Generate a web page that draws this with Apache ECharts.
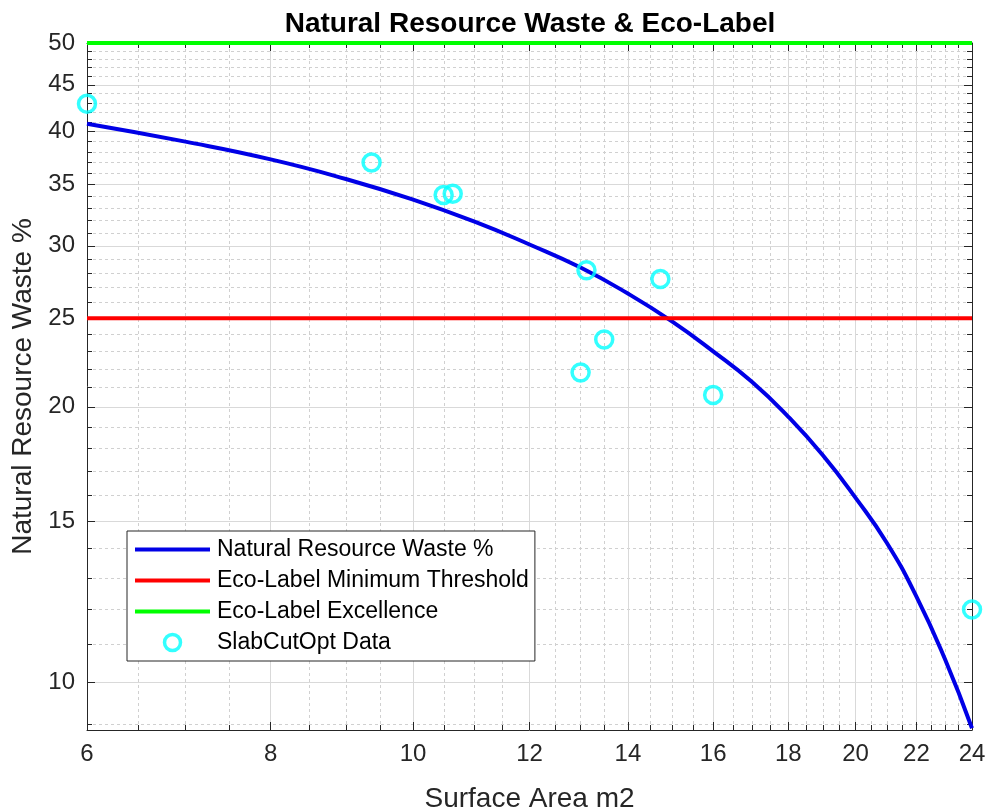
<!DOCTYPE html>
<html>
<head>
<meta charset="utf-8">
<title>Natural Resource Waste &amp; Eco-Label</title>
<script src="https://cdn.jsdelivr.net/npm/echarts@6/dist/echarts.min.js"></script>
<style>
  html, body { margin: 0; padding: 0; background: #fff; }
  #chart { width: 988px; height: 807px; }
</style>
</head>
<body>
<div id="chart"></div>
<script>
// axis ranges (log-log)
const X_MIN = 6;
const X_MAX = 24;
const Y_MIN = 8.86;
const Y_MAX = 50;

// tick values
const xMajorTicks = [6, 8, 10, 12, 14, 16, 18, 20, 22, 24];
const xMinorTicks = [6.5, 7, 7.5, 8.5, 9, 9.5, 10.5, 11, 11.5, 12.5, 13, 13.5, 14.5, 15, 15.5,
  16.5, 17, 17.5, 18.5, 19, 19.5, 20.5, 21, 21.5, 22.5, 23, 23.5];
const yMajorTicks = [10, 15, 20, 25, 30, 35, 40, 45, 50];
const yMinorTicks = [9, 11, 12, 13, 14, 16, 17, 18, 19, 21, 22, 23, 24, 26, 27, 28, 29,
  31, 32, 33, 34, 36, 37, 38, 39, 41, 42, 43, 44, 46, 47, 48, 49];

// fitted waste curve
const wasteArea = [6, 7, 8, 9, 10, 11, 12, 13, 14, 15, 16, 17, 18, 19, 20, 21, 22, 23, 24];
const wastePct = [40.8, 39.0, 37.3, 35.5, 33.7, 31.9, 30.1, 28.4, 26.6, 24.8, 23.0, 21.3,
  19.5, 17.7, 15.9, 14.2, 12.4, 10.6, 8.9];

// eco-label thresholds
const minThreshold = 25;
const excellence = 50;

// SlabCutOpt measurements
const slabArea = [6, 9.37, 10.49, 10.64, 13.12, 14.73, 13.49, 13.0, 16.0, 24];
const slabWaste = [42.9, 37.0, 34.1, 34.2, 28.2, 27.6, 23.7, 21.8, 20.6, 12.0];

const FONT = "Liberation Sans";
const AXIS_COLOR = "#262626";
const MAJOR_GRID = "#d9d9d9";
const MINOR_GRID = "#d0d0d0";
const LINE_ICON = "path://M0,0H75V4H0Z";

const pairs = (xs, ys) => xs.map((x, i) => [x, ys[i]]);

// one axis per tick family; the first carries labels and name
const xAxisFor = (position, ticks, len, opts) => Object.assign({
  type: "log",
  logBase: 10,
  min: X_MIN,
  max: X_MAX,
  position: position,
  axisLine: { show: false, onZero: false },
  axisTick: { show: true, inside: true, length: len, customValues: ticks, lineStyle: { color: AXIS_COLOR, width: 1 } },
  axisLabel: { show: false },
  splitLine: { show: false },
  minorTick: { show: false },
  minorSplitLine: { show: false },
}, opts);

const yAxisFor = (position, ticks, len, opts) => Object.assign({
  type: "log",
  logBase: 10,
  min: Y_MIN,
  max: Y_MAX,
  position: position,
  axisLine: { show: false, onZero: false },
  axisTick: { show: true, inside: true, length: len, customValues: ticks, lineStyle: { color: AXIS_COLOR, width: 1 } },
  axisLabel: { show: false },
  splitLine: { show: false },
  minorTick: { show: false },
  minorSplitLine: { show: false },
}, opts);

const chart = echarts.init(document.getElementById("chart"));

chart.setOption({
  animation: false,
  backgroundColor: "#fff",
  title: {
    text: "Natural Resource Waste & Eco-Label",
    left: 525,
    top: 5,
    textAlign: "center",
    textStyle: { fontFamily: FONT, fontSize: 28, fontWeight: "bold", color: "#000" },
  },
  grid: { left: 87, right: 16, top: 43, bottom: 77, containLabel: false, outerBoundsMode: "none" },
  legend: {
    orient: "vertical",
    left: 127,
    top: 531,
    itemWidth: 75,
    itemHeight: 16,
    itemGap: 8,
    padding: [7, 6, 7, 8],
    backgroundColor: "#fff",
    borderColor: AXIS_COLOR,
    borderWidth: 1,
    borderRadius: 0,
    textStyle: { fontFamily: FONT, fontSize: 23, color: "#000", padding: [0, 0, 0, 2] },
    data: [
      { name: "Natural Resource Waste %", icon: LINE_ICON },
      { name: "Eco-Label Minimum Threshold", icon: LINE_ICON },
      { name: "Eco-Label Excellence", icon: LINE_ICON },
      { name: "SlabCutOpt Data", icon: "circle", itemStyle: { color: "#fff", borderColor: "#00ffff", borderWidth: 3.5 } },
    ],
  },
  xAxis: [
    xAxisFor("bottom", xMajorTicks, 8, {
      name: "Surface Area m2",
      nameLocation: "middle",
      nameGap: 55,
      nameTextStyle: { fontFamily: FONT, fontSize: 28, color: AXIS_COLOR },
      axisLine: { show: true, onZero: false, lineStyle: { color: AXIS_COLOR, width: 1 } },
      axisLabel: { show: true, customValues: xMajorTicks, margin: 12, fontFamily: FONT, fontSize: 24, color: AXIS_COLOR },
      splitLine: { show: true, lineStyle: { color: MAJOR_GRID, width: 1 } },
    }),
    xAxisFor("bottom", xMinorTicks, 5, {
      splitLine: { show: true, lineStyle: { color: MINOR_GRID, width: 1, type: [3, 3] } },
    }),
    xAxisFor("top", xMajorTicks, 8, {
      axisLine: { show: true, onZero: false, lineStyle: { color: AXIS_COLOR, width: 1 } },
    }),
    xAxisFor("top", xMinorTicks, 5),
  ],
  yAxis: [
    yAxisFor("left", yMajorTicks, 8, {
      name: "Natural Resource Waste %",
      nameLocation: "middle",
      nameGap: 45,
      nameTextStyle: { fontFamily: FONT, fontSize: 28, color: AXIS_COLOR },
      axisLine: { show: true, onZero: false, lineStyle: { color: AXIS_COLOR, width: 1 } },
      axisLabel: { show: true, customValues: yMajorTicks, margin: 12, fontFamily: FONT, fontSize: 24, color: AXIS_COLOR },
      splitLine: { show: true, lineStyle: { color: MAJOR_GRID, width: 1 } },
    }),
    yAxisFor("left", yMinorTicks, 5, {
      splitLine: { show: true, lineStyle: { color: MINOR_GRID, width: 1, type: [3, 3] } },
    }),
    yAxisFor("right", yMajorTicks, 8, {
      axisLine: { show: true, onZero: false, lineStyle: { color: AXIS_COLOR, width: 1 } },
    }),
    yAxisFor("right", yMinorTicks, 5),
  ],
  series: [
    {
      name: "Natural Resource Waste %",
      type: "line",
      data: pairs(wasteArea, wastePct),
      smooth: true,
      symbol: "none",
      itemStyle: { color: "#0000e6" },
      lineStyle: { color: "#0000e6", width: 4 },
      z: 3,
    },
    {
      name: "Eco-Label Minimum Threshold",
      type: "line",
      data: [[X_MIN, minThreshold], [X_MAX, minThreshold]],
      symbol: "none",
      itemStyle: { color: "#ff0000" },
      lineStyle: { color: "#ff0000", width: 4 },
      z: 3,
    },
    {
      name: "Eco-Label Excellence",
      type: "line",
      data: [[X_MIN, excellence], [X_MAX, excellence]],
      symbol: "none",
      clip: false,
      itemStyle: { color: "#00ff00" },
      lineStyle: { color: "#00ff00", width: 4 },
      z: 3,
    },
    {
      name: "SlabCutOpt Data",
      type: "scatter",
      data: pairs(slabArea, slabWaste),
      symbol: "circle",
      symbolSize: 17,
      clip: false,
      itemStyle: { color: "rgba(255,255,255,0)", borderColor: "#00ffff", borderWidth: 3.5 },
      z: 4,
    },
  ],
});
</script>
</body>
</html>
